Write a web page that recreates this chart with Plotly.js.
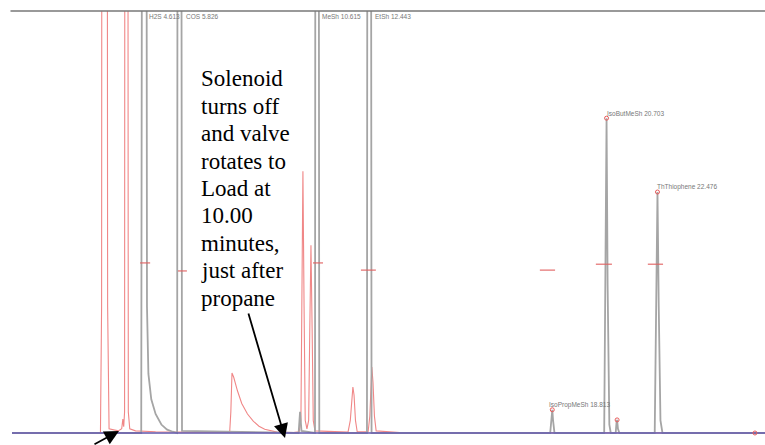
<!DOCTYPE html>
<html>
<head>
<meta charset="utf-8">
<script src="https://cdn.plot.ly/plotly-3.0.1.min.js"></script>
<style>html,body{margin:0;padding:0;background:#fff;}#chart{width:765px;height:445px;}</style>
</head>
<body>
<div id="chart"></div>
<script>
// Red trace (earlier injection) : time (min), signal
var redT = [0, 3.08, 3.12, 3.14, 3.30, 3.33, 3.38, 3.70, 3.82, 3.86, 3.89, 3.92, 3.94, 4.02, 4.05, 4.10, 4.30, 5.0, 6.0, 7.0, 7.58, 7.62, 7.66, 7.72, 7.85, 8.0, 8.2, 8.4, 8.6, 8.8, 9.0, 9.23, 9.8, 10.0, 10.06, 10.10, 10.13, 10.17, 10.21, 10.27, 10.33, 10.37, 10.41, 10.45, 10.49, 10.55, 11.7, 11.78, 11.83, 11.87, 11.91, 11.96, 12.02, 12.40, 12.46, 12.50, 12.53, 12.57, 12.62, 12.68, 13.5, 26.22];
var redV = [0, 0, 30, 300, 300, 30, 1, 0.5, 1, 3.3, 1.5, 5, 300, 300, 5, 1, 0.5, 0.3, 0.2, 0.1, 0.2, 5, 14.2, 13.2, 10, 7, 4.5, 2.8, 1.6, 0.9, 0.5, 0.2, 0.1, 0.3, 3, 30, 62, 30, 3, 1, 3, 25, 44.5, 25, 3, 0.5, 0.2, 3, 9, 10.9, 9, 3, 0.3, 0.3, 4, 13, 15.6, 12, 4, 0.5, 0.1, 0];

// Gray trace (sulfur compounds)
var grayT = [0, 4.50, 4.56, 4.66, 4.70, 4.75, 4.85, 5.0, 5.2, 5.4, 5.6, 5.75, 5.78, 5.87, 5.92, 9.98, 10.03, 10.08, 10.55, 10.58, 10.66, 10.70, 12.36, 12.39, 12.48, 12.52, 18.74, 18.78, 18.813, 18.84, 18.89, 20.62, 20.66, 20.703, 20.74, 20.80, 20.85, 21.02, 21.05, 21.07, 21.10, 21.15, 22.38, 22.43, 22.476, 22.52, 22.58, 22.65, 26.22];
var grayV = [0, 0, 300, 300, 30, 14, 8, 4.5, 2, 0.8, 0.3, 0, 300, 300, 0.5, 0, 5, 0.5, 0, 300, 300, 0, 0, 300, 300, 0, 0, 3, 5.5, 3, 0, 0, 35, 74.6, 35, 2, 0, 0, 2.5, 3.1, 1, 0, 0, 30, 57.1, 30, 3, 0, 0];

// Baseline trace
var baseT = [0, 26.22];
var baseV = [0, 0];

// Half-height marks (segments separated by null)
var hhT = [4.46, 4.81, null, 5.78, 6.09, null, 10.48, 10.83, null, 12.15, 12.67, null, 18.38, 18.91, null, 20.33, 20.89, null, 22.14, 22.67];
var hhV = [40.3, 40.3, null, 38.4, 38.4, null, 40.3, 40.3, null, 38.6, 38.6, null, 38.6, 38.6, null, 40.0, 40.0, null, 40.0, 40.0];

// Peak-top markers
var markT = [18.813, 20.703, 21.07, 22.476, 25.87];
var markV = [5.5, 74.6, 3.1, 57.1, 0];

// Peak labels
var topLabels = ["H2S 4.613", "COS 5.826", "MeSh 10.615", "EtSh 12.443"];
var topLabelT = [4.613, 5.826, 10.615, 12.443];
var topLabelShift = [3, 5, 3, 4];
var peakLabels = ["IsoPropMeSh 18.813", "IsoButMeSh 20.703", "ThThiophene 22.476"];
var peakLabelT = [18.813, 20.703, 22.476];
var peakLabelV = [5.5, 74.6, 57.1];
var peakLabelShift = [-5, -2, -2];

// Callout text lines
var noteLines = ["Solenoid", "turns off", "and valve", "rotates to", "Load at", "10.00", "minutes,", "just after", "propane"];

var W = 765, H = 445, ML = 12, MR = 0, MT = 11, MB = 8;
var PW = W - ML - MR, PH = H - MT - MB;
function px2paperX(px) { return (px - ML) / PW; }
function px2paperY(py) { return 1 - (py - MT) / PH; }

var traces = [
  {x: redT, y: redV, type: 'scatter', mode: 'lines', line: {color: 'rgb(240,135,135)', width: 1.1}, hoverinfo: 'skip'},
  {x: grayT, y: grayV, type: 'scatter', mode: 'lines', line: {color: 'rgb(165,165,165)', width: 1.8}, hoverinfo: 'skip'},
  {x: baseT, y: baseV, type: 'scatter', mode: 'lines', line: {color: 'rgb(105,95,175)', width: 1.8}, opacity: 0.8, hoverinfo: 'skip'},
  {x: hhT, y: hhV, type: 'scatter', mode: 'lines', line: {color: 'rgb(225,95,95)', width: 1.1}, connectgaps: false, hoverinfo: 'skip'},
  {x: markT, y: markV, type: 'scatter', mode: 'markers', marker: {symbol: 'circle-open', size: 4, color: 'rgb(230,90,90)', line: {width: 1}}, hoverinfo: 'skip'}
];

var annotations = [];
for (var i = 0; i < topLabels.length; i++) {
  annotations.push({text: topLabels[i], x: topLabelT[i], xref: 'x', y: px2paperY(17), yref: 'paper', xanchor: 'left', yanchor: 'middle', xshift: topLabelShift[i], showarrow: false, font: {family: 'Arial, Liberation Sans', size: 6.5, color: '#777'}});
}
for (var j = 0; j < peakLabels.length; j++) {
  annotations.push({text: peakLabels[j], x: peakLabelT[j], xref: 'x', y: peakLabelV[j], yref: 'y', xanchor: 'left', yanchor: 'bottom', xshift: peakLabelShift[j], yshift: -1, showarrow: false, font: {family: 'Arial, Liberation Sans', size: 6.5, color: '#777'}});
}
for (var k = 0; k < noteLines.length; k++) {
  annotations.push({text: noteLines[k], x: px2paperX(199), xref: 'paper', y: px2paperY(79 + k * 27.4), yref: 'paper', xanchor: 'left', yanchor: 'middle', showarrow: false, font: {family: 'Liberation Serif, Times New Roman, serif', size: 23, color: '#000'}});
}
// arrows
annotations.push({text: '', x: px2paperX(285), y: px2paperY(438), xref: 'paper', yref: 'paper', ax: -37, ay: -126, showarrow: true, arrowhead: 2, arrowsize: 1.6, arrowwidth: 1.8, arrowcolor: '#000', standoff: 0});
annotations.push({text: '', x: px2paperX(119), y: px2paperY(431), xref: 'paper', yref: 'paper', ax: -26, ay: 22, showarrow: true, arrowhead: 2, arrowsize: 1.6, arrowwidth: 1.8, arrowcolor: '#000', standoff: 0});

var layout = {
  width: W, height: H,
  margin: {l: ML, r: MR, t: MT, b: MB, pad: 0},
  paper_bgcolor: '#fff', plot_bgcolor: '#fff',
  showlegend: false,
  xaxis: {range: [0, 26.22], showgrid: false, zeroline: false, showline: false, showticklabels: false, ticks: '', fixedrange: true},
  yaxis: {range: [-0.95, 100], showgrid: false, zeroline: false, showline: false, showticklabels: false, ticks: '', fixedrange: true},
  shapes: [{type: 'line', xref: 'paper', yref: 'paper', x0: -0.002, x1: 1, y0: 1, y1: 1, line: {color: '#777', width: 1.5}}],
  annotations: annotations
};

Plotly.newPlot('chart', traces, layout, {staticPlot: true, displayModeBar: false});
</script>
</body>
</html>
